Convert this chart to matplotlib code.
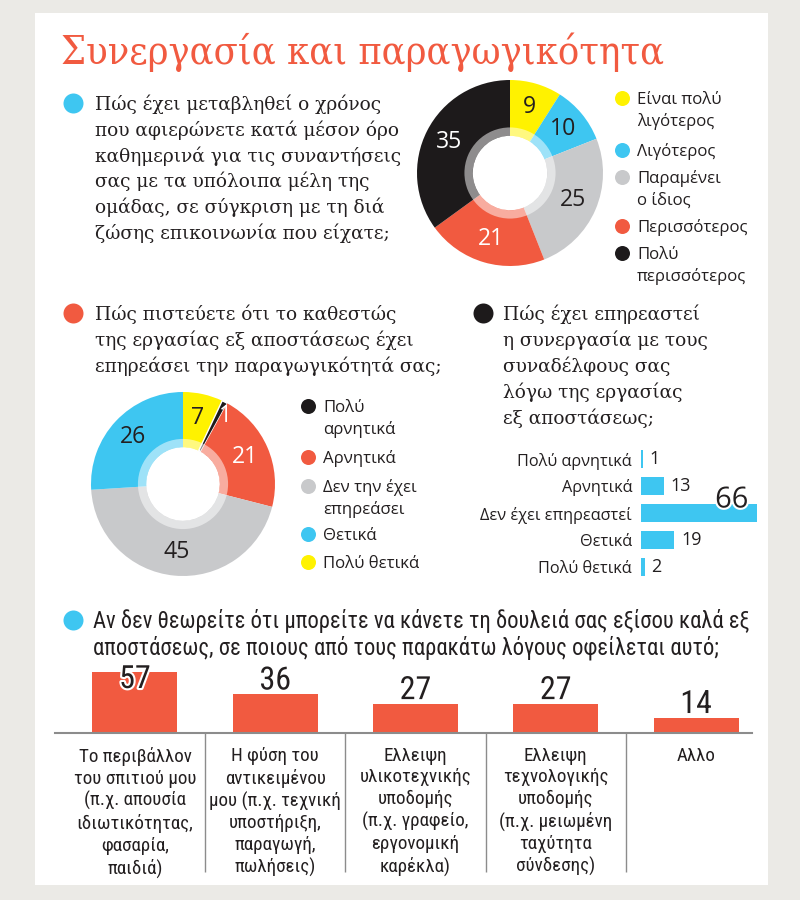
import numpy as np
import matplotlib
matplotlib.use("Agg")
import matplotlib.pyplot as plt
from matplotlib.patches import Rectangle, Wedge
import matplotlib.patheffects as pe

# ---------------- data ----------------
title = "Συνεργασία και παραγωγικότητα"

q1_lines = ["Πώς έχει μεταβληθεί ο χρόνος",
            "που αφιερώνετε κατά μέσον όρο",
            "καθημερινά για τις συναντήσεις",
            "σας με τα υπόλοιπα μέλη της",
            "ομάδας, σε σύγκριση με τη διά",
            "ζώσης επικοινωνία που είχατε;"]
q1_labels = ["Είναι πολύ\nλιγότερος", "Λιγότερος", "Παραμένει\nο ίδιος",
             "Περισσότερος", "Πολύ\nπερισσότερος"]
q1_values = [9, 10, 25, 21, 35]

q2_lines = ["Πώς πιστεύετε ότι το καθεστώς",
            "της εργασίας εξ αποστάσεως έχει",
            "επηρεάσει την παραγωγικότητά σας;"]
q2_labels = ["Πολύ\nαρνητικά", "Αρνητικά", "Δεν την έχει\nεπηρεάσει",
             "Θετικά", "Πολύ θετικά"]
q2_values = [1, 21, 45, 26, 7]

q3_lines = ["Πώς έχει επηρεαστεί",
            "η συνεργασία με τους",
            "συναδέλφους σας",
            "λόγω της εργασίας",
            "εξ αποστάσεως;"]
q3_labels = ["Πολύ αρνητικά", "Αρνητικά", "Δεν έχει επηρεαστεί",
             "Θετικά", "Πολύ θετικά"]
q3_values = [1, 13, 66, 19, 2]

q4_lines = ["Αν δεν θεωρείτε ότι μπορείτε να κάνετε τη δουλειά σας εξίσου καλά εξ",
            "αποστάσεως, σε ποιους από τους παρακάτω λόγους οφείλεται αυτό;"]
q4_labels = ["Το περιβάλλον\nτου σπιτιού μου\n(π.χ. απουσία\nιδιωτικότητας,\nφασαρία,\nπαιδιά)",
             "Η φύση του\nαντικειμένου\nμου (π.χ. τεχνική\nυποστήριξη,\nπαραγωγή,\nπωλήσεις)",
             "Ελλειψη\nυλικοτεχνικής\nυποδομής\n(π.χ. γραφείο,\nεργονομική\nκαρέκλα)",
             "Ελλειψη\nτεχνολογικής\nυποδομής\n(π.χ. μειωμένη\nταχύτητα\nσύνδεσης)",
             "Αλλο"]
q4_values = [57, 36, 27, 27, 14]

# ---------------- style ----------------
YELLOW = "#fff200"
BLUE = "#3ec6f1"
GRAY = "#c8c9cb"
RED = "#f15a40"
BLACK = "#1d1a1b"
TXT = "#231f20"
WHITE = "white"

q1_colors = [YELLOW, BLUE, GRAY, RED, BLACK]
q1_txtc = [TXT, TXT, TXT, WHITE, WHITE]
q2_colors = [BLACK, RED, GRAY, BLUE, YELLOW]
q2_order = [4, 0, 1, 2, 3]          # clockwise from 12 o'clock

SERIF = ["DejaVu Serif"]
SANS = ["Open Sans", "DejaVu Sans"]
NARROW = ["Roboto Condensed", "Liberation Sans Narrow", "Roboto", "DejaVu Sans"]
PT = 0.72  # px -> pt at dpi 100

W, H = 800, 900
fig = plt.figure(figsize=(8, 9), dpi=100)
fig.patch.set_facecolor("#ebeae6")


def add_ax(x, y, w, h):
    a = fig.add_axes([x / W, 1 - (y + h) / H, w / W, h / H])
    a.patch.set_alpha(0)
    return a


bg = add_ax(0, 0, W, H)
bg.set_xlim(0, W)
bg.set_ylim(H, 0)
bg.axis("off")
bg.add_patch(Rectangle((35, 13), 733, 872, facecolor="white", lw=0))

bg.text(61, 64.5, title, family=SERIF, fontstretch="condensed",
        fontsize=39.5 * PT, color=RED, va="baseline", ha="left")


def lines(x, y0, texts, step, **kw):
    for k, t in enumerate(texts):
        bg.text(x, y0 + k * step, t, va="baseline", ha="left", color=TXT, **kw)


def bullet(x, y, c):
    bg.scatter([x], [y], s=(20 * PT) ** 2, color=c, lw=0)


def legend(x, ys, labels, colors, step=22):
    for y, lab, c in zip(ys, labels, colors):
        bg.scatter([x], [y], s=(15 * PT) ** 2, color=c, lw=0)
        for k, part in enumerate(lab.split("\n")):
            bg.text(x + 15, y + 6 + k * step, part, family=SANS,
                    fontsize=16.8 * PT, color=TXT, va="baseline", ha="left")


def donut(cx, cy, R, values, colors, txtc, fs=23):
    ax = add_ax(cx - R, cy - R, 2 * R, 2 * R)
    wedges, _ = ax.pie(values, colors=colors, startangle=90, counterclock=False,
                       radius=1, wedgeprops=dict(width=0.6, linewidth=0))
    ax.set_xlim(-1, 1)
    ax.set_ylim(-1, 1)
    ax.set_aspect("equal")
    ax.axis("off")
    ax.add_patch(Wedge((0, 0), 0.49, 0, 360, width=0.09, facecolor="white",
                       alpha=0.5, lw=0))
    for w, v, tc in zip(wedges, values, txtc):
        a = np.deg2rad((w.theta1 + w.theta2) / 2)
        if w.theta1 - w.theta2 > -10 and w.theta2 - w.theta1 < 10:
            # tiny slice: put its number just beside it
            ax.text(0.8 * np.cos(a) + 0.03, 0.8 * np.sin(a) + 0.03, str(v),
                    ha="left", va="center", color=tc, family=SANS,
                    fontsize=fs * PT)
        else:
            ax.text(0.74 * np.cos(a), 0.74 * np.sin(a), str(v), ha="center",
                    va="center", color=tc, family=SANS, fontsize=fs * PT)
    return ax, wedges


QFS = 18.6 * PT

# ---- section 1 ----
bullet(73, 103, BLUE)
lines(95, 110, q1_lines, 25.8, family=SERIF, fontsize=QFS)
donut(510, 173, 93, q1_values, q1_colors, q1_txtc)
legend(622, [98, 150, 177, 226, 253], q1_labels, q1_colors)

# ---- section 2 ----
bullet(73, 313, RED)
lines(95, 320, q2_lines, 26, family=SERIF, fontsize=QFS)
vals2 = [q2_values[i] for i in q2_order]
cols2 = [q2_colors[i] for i in q2_order]
txt2 = [TXT, WHITE, WHITE, TXT, TXT]
ax2, w2 = donut(183, 484, 92, vals2, cols2, txt2)
w2[1].set_edgecolor("white")
w2[1].set_linewidth(1.0)
legend(308, [406, 457, 486, 534, 562], q2_labels, q2_colors)

# ---- section 3 ----
bullet(483, 313, BLACK)
lines(503, 320, q3_lines, 26, family=SERIF, fontsize=QFS)
ax3 = add_ax(641, 445.5, 120, 135)
ax3.barh(range(len(q3_values)), q3_values, height=0.63, color=BLUE)
ax3.set_xlim(0, 120 / 1.76)
ax3.set_ylim(len(q3_values) - 0.5, -0.5)
ax3.set_yticks(range(len(q3_labels)), q3_labels, family=SANS,
               fontsize=16.3 * PT, color=TXT)
ax3.set_xticks([])
ax3.tick_params(axis="y", length=0, pad=9 * PT)
for s in ax3.spines.values():
    s.set_visible(False)
vmax3 = max(q3_values)
for i, v in enumerate(q3_values):
    if v == vmax3:
        ax3.annotate(str(v), (v, i - 0.315), xytext=(-9 * PT, -3 * PT),
                     textcoords="offset points", ha="right", va="baseline",
                     family=SANS, fontsize=29 * PT, color=TXT,
                     path_effects=[pe.withStroke(linewidth=3, foreground="white")])
    else:
        ax3.annotate(str(v), (v, i), xytext=(7 * PT, 0),
                     textcoords="offset points", ha="left", va="center",
                     family=SANS, fontsize=18 * PT, color=TXT)

# ---- section 4 ----
bullet(73, 620, BLUE)
lines(93, 628, q4_lines, 27, family=NARROW, fontstretch="condensed",
      fontsize=22.6 * PT)
ax4 = add_ax(55, 653, 697, 80)
ax4.bar(range(len(q4_values)), q4_values, width=0.606, color=RED)
ax4.set_xlim(-0.570, 4.399)
ax4.set_ylim(0, 80 / 1.07)
for k, s in ax4.spines.items():
    s.set_visible(k == "bottom")
ax4.spines["bottom"].set_color("#8c8c8c")
ax4.spines["bottom"].set_linewidth(1.5)
ax4.set_yticks([])
ax4.set_xticks(range(len(q4_labels)), q4_labels, family=NARROW,
               fontstretch="condensed", fontsize=19 * PT, color=TXT,
               linespacing=1.25)
ax4.tick_params(axis="x", length=0, pad=14 * PT)
ax4.vlines([0.5, 1.5, 2.5, 3.5], -(872 - 733) / 1.07, 0, color="#8c8c8c",
           lw=1, clip_on=False)
cap = 45 / 1.07
for i, v in enumerate(q4_values):
    ax4.text(i, min(v + 5 / 1.07, cap), str(v), ha="center", va="baseline",
             family=NARROW, fontstretch="condensed", fontsize=32 * PT,
             color=TXT, clip_on=False,
             path_effects=[pe.withStroke(linewidth=3, foreground="white")])

fig.savefig("out.png", dpi=100, facecolor=fig.get_facecolor())
